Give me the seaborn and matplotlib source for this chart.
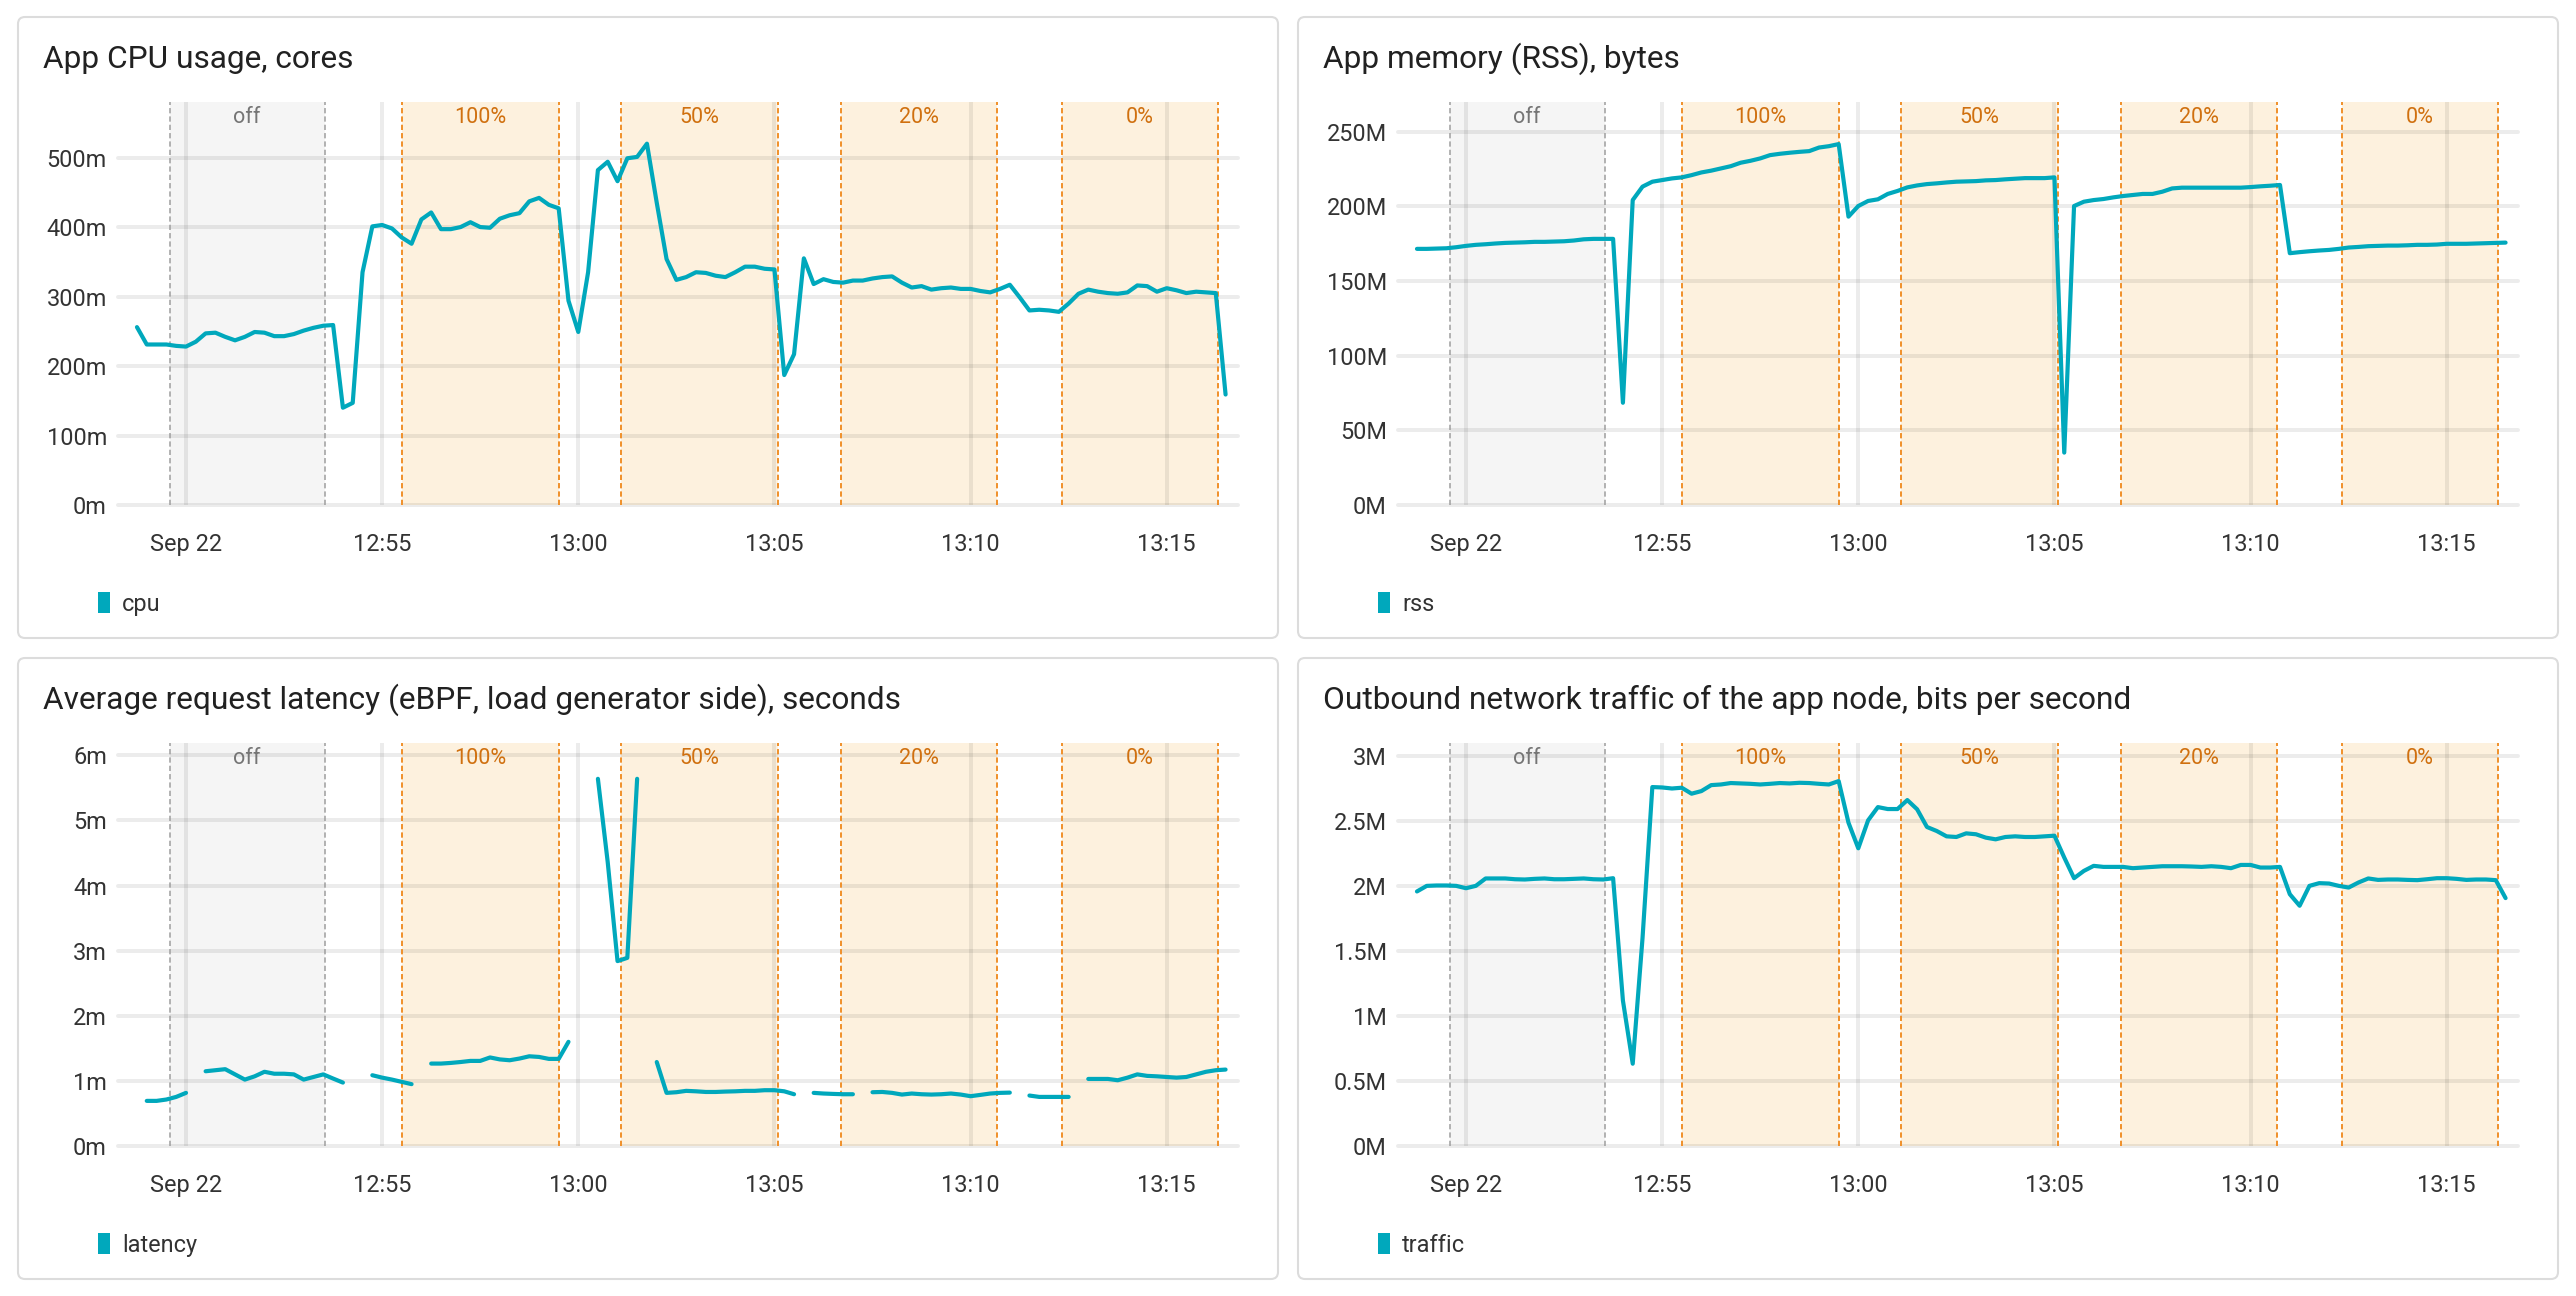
import numpy as np
import pandas as pd
import matplotlib
matplotlib.use("Agg")
import matplotlib.pyplot as plt
import matplotlib.dates as mdates
from matplotlib.patches import FancyBboxPatch, Patch
import seaborn as sns

nan = np.nan

# one sample every 15 s
day = "2023-09-22 "
start_time = day + "12:48:45"
step = "15s"

cpu_millicores = [
    256, 231, 231, 231, 229, 228, 235, 247, 248, 242,
    237, 242, 249, 248, 243, 243, 246, 251, 255, 258,
    259, 140, 147, 335, 401, 403, 398, 385, 376, 411,
    421, 397, 397, 400, 407, 400, 399, 412, 417, 420,
    437, 442, 432, 427, 294, 249, 335, 482, 494, 466,
    499, 501, 520, 435, 354, 324, 328, 335, 334, 330,
    328, 335, 343, 343, 340, 339, 187, 217, 355, 318,
    325, 321, 320, 323, 323, 326, 328, 329, 320, 313,
    315, 310, 312, 313, 311, 311, 308, 306, 311, 317,
    299, 280, 281, 280, 278, 290, 304, 310, 307, 305,
    304, 306, 316, 315, 307, 312, 309, 305, 307, 306,
    305, 159,
]

rss_megabytes = [
    171.6, 171.6, 171.8, 172.0, 172.7, 173.6, 174.3, 174.7, 175.2, 175.6,
    175.8, 176.0, 176.3, 176.3, 176.5, 176.7, 177.2, 178.0, 178.3, 178.3,
    178.3, 68.5, 204.3, 213.3, 216.6, 217.7, 218.8, 219.5, 221.0, 222.8,
    224.0, 225.5, 227.0, 229.3, 230.6, 232.2, 234.4, 235.3, 236.0, 236.6,
    237.1, 239.5, 240.4, 241.8, 193.2, 200.3, 203.7, 204.8, 208.4, 210.4,
    212.8, 214.1, 215.0, 215.5, 216.1, 216.6, 216.8, 217.0, 217.5, 217.7,
    218.2, 218.6, 219.0, 219.0, 219.0, 219.5, 35.1, 200.3, 203.2, 204.3,
    205.0, 206.1, 207.0, 207.7, 208.4, 208.4, 209.9, 212.1, 212.6, 212.6,
    212.6, 212.6, 212.6, 212.6, 212.6, 213.0, 213.5, 213.9, 214.4, 168.7,
    169.4, 170.0, 170.5, 170.9, 171.6, 172.5, 172.9, 173.4, 173.6, 173.8,
    173.8, 174.0, 174.3, 174.3, 174.5, 175.0, 175.0, 175.0, 175.2, 175.4,
    175.6, 175.8,
]

latency_ms = [
    nan, 0.693, 0.693, 0.714, 0.754, 0.816, nan, 1.148, 1.164, 1.18,
    1.10, 1.02, 1.07, 1.14, 1.11, 1.11, 1.10, 1.02, 1.06, 1.10,
    1.036, 0.974, nan, nan, 1.087, 1.05, 1.02, 0.985, 0.95, nan,
    1.266, 1.266, 1.276, 1.29, 1.307, 1.307, 1.36, 1.33, 1.317, 1.343,
    1.378, 1.368, 1.338, 1.338, 1.60, nan, nan, 5.64, 4.36, 2.84,
    2.89, 5.64, nan, 1.29, 0.816, 0.826, 0.847, 0.84, 0.83, 0.83,
    0.836, 0.84, 0.847, 0.847, 0.857, 0.857, 0.84, 0.795, nan, 0.816,
    0.806, 0.80, 0.795, 0.795, nan, 0.826, 0.83, 0.816, 0.79, 0.806,
    0.795, 0.79, 0.795, 0.806, 0.79, 0.765, 0.785, 0.806, 0.816, 0.82,
    nan, 0.775, 0.754, 0.754, 0.754, 0.754, nan, 1.03, 1.03, 1.03,
    1.01, 1.05, 1.10, 1.077, 1.07, 1.06, 1.05, 1.06, 1.10, 1.14,
    1.164, 1.174,
]

traffic_mbps = [
    1.958, 2.001, 2.004, 2.004, 2.001, 1.983, 2.001, 2.058, 2.058, 2.058,
    2.052, 2.05, 2.055, 2.058, 2.052, 2.052, 2.055, 2.058, 2.052, 2.05,
    2.06, 1.119, 0.633, 1.6, 2.761, 2.758, 2.75, 2.756, 2.71, 2.73,
    2.776, 2.781, 2.792, 2.789, 2.786, 2.781, 2.786, 2.792, 2.789, 2.794,
    2.792, 2.786, 2.781, 2.807, 2.487, 2.29, 2.505, 2.607, 2.592, 2.592,
    2.661, 2.59, 2.454, 2.423, 2.382, 2.377, 2.405, 2.398, 2.372, 2.359,
    2.377, 2.382, 2.377, 2.377, 2.382, 2.387, 2.219, 2.06, 2.116, 2.155,
    2.147, 2.147, 2.147, 2.137, 2.142, 2.147, 2.152, 2.152, 2.152, 2.15,
    2.147, 2.152, 2.147, 2.137, 2.162, 2.162, 2.142, 2.142, 2.147, 1.937,
    1.848, 2.001, 2.022, 2.019, 2.001, 1.988, 2.027, 2.058, 2.047, 2.05,
    2.05, 2.047, 2.045, 2.052, 2.06, 2.06, 2.055, 2.047, 2.05, 2.05,
    2.045, 1.907,
]

# load stages (annotations)
stage_names = ["off", "100%", "50%", "20%", "0%"]
stage_starts = ["12:49:35", "12:55:30", "13:01:05", "13:06:42", "13:12:20"]
stage_ends = ["12:53:32", "12:59:31", "13:05:05", "13:10:41", "13:16:18"]

tick_times = ["12:50", "12:55", "13:00", "13:05", "13:10", "13:15"]
tick_labels = ["Sep 22", "12:55", "13:00", "13:05", "13:10", "13:15"]

cpu_yticks = [0, 100, 200, 300, 400, 500]
rss_yticks = [0, 50, 100, 150, 200, 250]
latency_yticks = [0, 1, 2, 3, 4, 5, 6]
traffic_yticks = [0, 0.5, 1, 1.5, 2, 2.5, 3]

TEAL = "#00a8bc"

sns.set_theme(style="white")
plt.rcParams["font.family"] = ["Roboto", "DejaVu Sans"]
plt.rcParams["lines.scale_dashes"] = False

W, H = 2576, 1296
fig = plt.figure(figsize=(W / 100, H / 100), dpi=100)
fig.patch.set_facecolor("white")

# background layer in pixel coordinates for the cards and titles
bg = fig.add_axes([0, 0, 1, 1], zorder=-10)
bg.set_xlim(0, W)
bg.set_ylim(H, 0)
bg.axis("off")

df = pd.DataFrame({
    "time": pd.date_range(start_time, periods=len(cpu_millicores), freq=step),
    "cpu": cpu_millicores,
    "rss": rss_megabytes,
    "latency": latency_ms,
    "traffic": traffic_mbps,
})

panels = [
    ("App CPU usage, cores", "cpu", cpu_yticks, "m", 580, 0, 0),
    ("App memory (RSS), bytes", "rss", rss_yticks, "M", 270, 1280, 0),
    ("Average request latency (eBPF, load generator side), seconds", "latency",
     latency_yticks, "m", 6.19, 0, 641),
    ("Outbound network traffic of the app node, bits per second", "traffic",
     traffic_yticks, "M", 3.1, 1280, 641),
]

for title, col, yticks, suffix, ytop, dx, dy in panels:
    bg.add_patch(FancyBboxPatch((18 + dx, 17 + dy), 1260, 621,
                                boxstyle="round,pad=0,rounding_size=7",
                                fc="white", ec="#dcdcdc", lw=1.5))
    bg.text(43 + dx, 68 + dy, title, fontsize=22.8, color="#212121", va="baseline")

    ax = fig.add_axes([(118 + dx) / W, 1 - (505 + dy) / H, 1120 / W, 403 / H])
    ax.patch.set_alpha(0)

    # shaded load stages
    for name, s, e in zip(stage_names, stage_starts, stage_ends):
        t0 = pd.Timestamp(day + s)
        t1 = pd.Timestamp(day + e)
        is_off = name == "off"
        ax.axvspan(t0, t1, color="#f5f5f5" if is_off else "#fdf1de", lw=0, zorder=0.8)
        for t in (t0, t1):
            ax.axvline(t, color="#9e9e9e" if is_off else "#f0902a",
                       lw=1.1 if is_off else 1.4, ls=(0, (3.8, 2.2)), zorder=1.8)
        mid = mdates.date2num(t0 + (t1 - t0) / 2)
        ax.text(mid, 0.961, name, transform=ax.get_xaxis_transform(),
                ha="center", va="center", fontsize=15.5,
                color="#757575" if is_off else "#d0700f")

    # series (broken where samples are missing)
    seg = df[col].isna().cumsum()
    d = df.assign(seg=seg).dropna(subset=[col])
    sns.lineplot(data=d, x="time", y=col, units="seg", estimator=None, ax=ax,
                 color=TEAL, linewidth=3.0, zorder=3)

    ax.set_xlabel("")
    ax.set_ylabel("")
    ax.set_xlim(pd.Timestamp(day + "12:48:16"), pd.Timestamp(day + "13:16:49"))
    ax.set_ylim(0, ytop)
    ax.set_xticks([pd.Timestamp(day + t) for t in tick_times])
    ax.set_xticklabels(tick_labels)
    ax.set_yticks(yticks)
    ax.set_yticklabels([f"{v:g}{suffix}" for v in yticks])

    ax.grid(True, color="black", alpha=0.075, lw=2.9)
    ax.set_axisbelow("line")
    for gl in ax.get_ygridlines():
        gl.set_clip_on(False)
    for sp in ax.spines.values():
        sp.set_visible(False)
    ax.tick_params(axis="x", length=14.4, width=2.9, color="#ebebeb", pad=6,
                   labelsize=16.9, labelcolor="#333333")
    ax.tick_params(axis="y", length=0, pad=8, labelsize=16.9, labelcolor="#333333")

    ax.legend(handles=[Patch(facecolor=TEAL, edgecolor="none", label=col)],
              loc="center left", bbox_to_anchor=((98 - 118) / 1120, -(604 - 505) / 403),
              frameon=False, borderpad=0, borderaxespad=0, handlelength=0.52,
              handleheight=1.0, handletextpad=0.5, fontsize=16.9, labelcolor="#333333")

fig.savefig("out.png", dpi=100, facecolor="white")
